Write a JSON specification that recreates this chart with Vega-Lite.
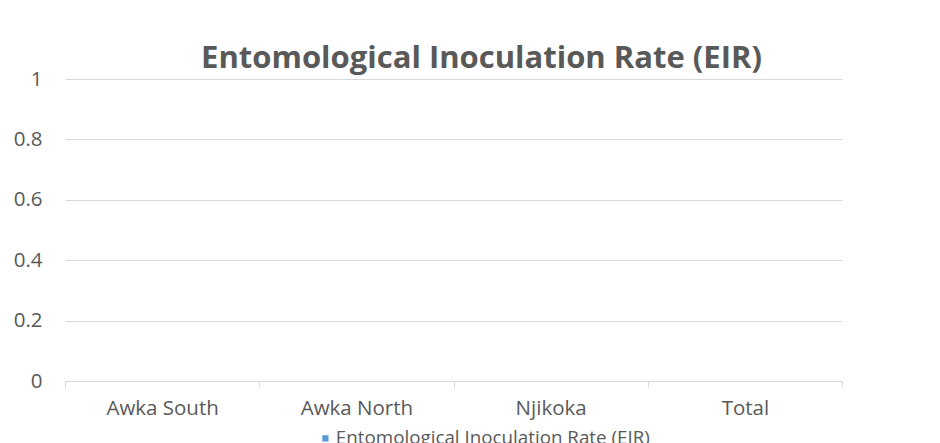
{
  "$schema": "https://vega.github.io/schema/vega-lite/v6.json",
  "autosize": {"type": "none"},
  "width": 777,
  "height": 302,
  "padding": {"left": 65, "top": 79, "right": 98, "bottom": 62},
  "background": "white",
  "title": {
    "text": "Entomological Inoculation Rate (EIR)",
    "font": "Open Sans",
    "fontSize": 31,
    "fontWeight": "bold",
    "color": "#595959",
    "anchor": "middle",
    "dx": 28,
    "dy": 42,
    "baseline": "alphabetic",
    "offset": 12
  },
  "data": {
    "values": [
      {"district": "Awka South", "eir": 0, "series": "Entomological Inoculation Rate (EIR)"},
      {"district": "Awka North", "eir": 0, "series": "Entomological Inoculation Rate (EIR)"},
      {"district": "Njikoka", "eir": 0, "series": "Entomological Inoculation Rate (EIR)"},
      {"district": "Total", "eir": 0, "series": "Entomological Inoculation Rate (EIR)"}
    ]
  },
  "mark": {"type": "bar", "width": {"band": 0.55}},
  "encoding": {
    "x": {
      "field": "district",
      "type": "nominal",
      "sort": null,
      "title": null,
      "scale": {"paddingInner": 0, "paddingOuter": 0},
      "axis": {
        "labelAngle": 0,
        "labelFont": "Open Sans",
        "labelFontSize": 20.5,
        "labelColor": "#595959",
        "labelPadding": 11,
        "domainColor": "#D9D9D9",
        "tickColor": "#D9D9D9",
        "tickSize": 6,
        "tickBand": "extent",
        "grid": false
      }
    },
    "y": {
      "field": "eir",
      "type": "quantitative",
      "title": null,
      "scale": {"domain": [0, 1]},
      "axis": {
        "values": [0, 0.2, 0.4, 0.6, 0.8, 1],
        "format": "~g",
        "labelFont": "Open Sans",
        "labelFontSize": 20.5,
        "labelColor": "#595959",
        "labelPadding": 23,
        "ticks": false,
        "domain": false,
        "gridColor": "#D9D9D9",
        "gridWidth": 1
      }
    },
    "color": {
      "field": "series",
      "type": "nominal",
      "scale": {"range": ["#5B9BD5"]},
      "legend": {
        "title": null,
        "orient": "none",
        "legendX": 251,
        "legendY": 350,
        "direction": "horizontal",
        "symbolType": "square",
        "symbolSize": 40,
        "symbolStrokeWidth": 0,
        "labelOffset": 1,
        "labelLimit": 0,
        "labelFont": "Open Sans",
        "labelFontSize": 18.8,
        "labelColor": "#595959"
      }
    }
  },
  "config": {
    "view": {"stroke": null}
  }
}
